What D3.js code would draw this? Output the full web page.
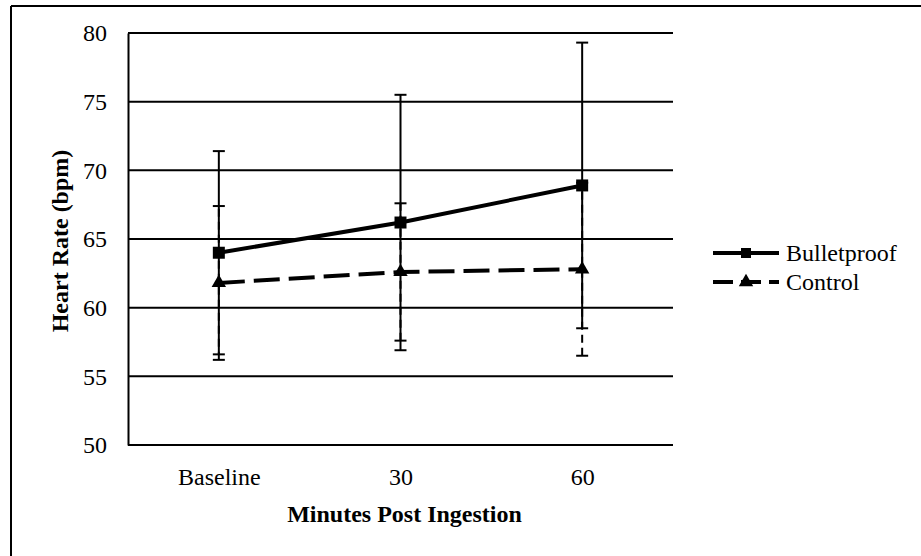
<!DOCTYPE html>
<html>
<head>
<meta charset="utf-8">
<script src="https://cdn.jsdelivr.net/npm/d3@7"></script>
<style>
    body { margin: 0; background: #fff; }
    text { font-family: "Liberation Serif", "Times New Roman", serif; fill: #000; }
</style>
</head>
<body>
<div id="chart"></div>
<script>
// data
var categories = ["Baseline", "30", "60"];
var bulletproof = [64.0, 66.2, 68.9];
var bulletproofErr = [7.4, 9.3, 10.4];
var control = [61.8, 62.6, 62.8];
var controlErr = [5.6, 5.0, 6.3];
var yTicks = [50, 55, 60, 65, 70, 75, 80];
var seriesNames = ["Bulletproof", "Control"];

var w = 921,
    h = 556,
    plotLeft = 128,
    plotRight = 673,
    plotTop = 33,
    plotBottom = 445;

var svg = d3.select("#chart")
    .append("svg")
    .attr("width", w)
    .attr("height", h);

// outer frame (top and left edges only are visible)
svg.append("line")
    .attr("x1", 11).attr("x2", w).attr("y1", 6).attr("y2", 6)
    .style("stroke", "#000").style("stroke-width", "2px");
svg.append("line")
    .attr("x1", 11).attr("x2", 11).attr("y1", 6).attr("y2", h)
    .style("stroke", "#000").style("stroke-width", "2px");

var x = d3.scalePoint().domain(categories).range([plotLeft, plotRight]).padding(0.5);
var y = d3.scaleLinear().domain([50, 80]).range([plotBottom, plotTop]);

// gridlines
svg.selectAll(".grid")
    .data(yTicks.slice(1))
    .enter()
    .append("line")
    .attr("class", "grid")
    .attr("x1", plotLeft)
    .attr("x2", plotRight)
    .attr("y1", function (d) { return y(d); })
    .attr("y2", function (d) { return y(d); })
    .style("stroke", "#000")
    .style("stroke-width", "2px");

// axes
var yAxis = d3.axisLeft(y).tickValues(yTicks).tickSize(0).tickPadding(21);
var gy = svg.append("g")
    .attr("transform", "translate(" + plotLeft + ",0)")
    .call(yAxis);
gy.select(".domain").style("stroke", "#000").style("stroke-width", "2px");
gy.selectAll("text").style("font-size", "24px").style("font-family", "Liberation Serif");

var xAxis = d3.axisBottom(x).tickSize(0).tickPadding(23);
var gx = svg.append("g")
    .attr("transform", "translate(0," + plotBottom + ")")
    .call(xAxis);
gx.select(".domain").attr("d", "M" + plotLeft + ",0H" + plotRight)
    .style("stroke", "#000").style("stroke-width", "2px");
gx.selectAll("text").style("font-size", "24px").style("font-family", "Liberation Serif");

// axis titles
svg.append("text")
    .attr("x", (plotLeft + plotRight) / 2 + 4)
    .attr("y", 522)
    .attr("text-anchor", "middle")
    .style("font-size", "24px")
    .style("font-weight", "bold")
    .text("Minutes Post Ingestion");

svg.append("text")
    .attr("transform", "translate(68," + 241 + ") rotate(-90)")
    .attr("text-anchor", "middle")
    .style("font-size", "24px")
    .style("font-weight", "bold")
    .text("Heart Rate (bpm)");

// error bars
function errorBars(values, errs, dash) {
    var g = svg.append("g");
    values.forEach(function (v, i) {
        var cx = x(categories[i]);
        g.append("line")
            .attr("x1", cx).attr("x2", cx)
            .attr("y1", y(v - errs[i])).attr("y2", y(v + errs[i]))
            .style("stroke", "#000").style("stroke-width", "2px")
            .style("stroke-dasharray", dash);
        [v - errs[i], v + errs[i]].forEach(function (e) {
            g.append("line")
                .attr("x1", cx - 6).attr("x2", cx + 6)
                .attr("y1", y(e)).attr("y2", y(e))
                .style("stroke", "#000").style("stroke-width", "2px");
        });
    });
}
errorBars(control, controlErr, "8,5");
errorBars(bulletproof, bulletproofErr, null);

var line = d3.line()
    .x(function (d, i) { return x(categories[i]); })
    .y(function (d) { return y(d); });

svg.append("path")
    .datum(bulletproof)
    .attr("d", line)
    .style("fill", "none")
    .style("stroke", "#000")
    .style("stroke-width", "4px");

svg.append("path")
    .datum(control)
    .attr("d", line)
    .style("fill", "none")
    .style("stroke", "#000")
    .style("stroke-width", "4px")
    .style("stroke-dasharray", "26,9");

var square = d3.symbol().type(d3.symbolSquare).size(144);
var triangle = d3.symbol().type(d3.symbolTriangle).size(90);

svg.selectAll(".sq")
    .data(bulletproof)
    .enter()
    .append("path")
    .attr("class", "sq")
    .attr("d", square)
    .attr("transform", function (d, i) { return "translate(" + x(categories[i]) + "," + y(d) + ")"; })
    .style("fill", "#000");

svg.selectAll(".tri")
    .data(control)
    .enter()
    .append("path")
    .attr("class", "tri")
    .attr("d", triangle)
    .attr("transform", function (d, i) { return "translate(" + x(categories[i]) + "," + y(d) + ")"; })
    .style("fill", "#000");

// legend
var legendY = [253, 282];
seriesNames.forEach(function (name, i) {
    var ly = legendY[i];
    svg.append("line")
        .attr("x1", 713).attr("x2", 779)
        .attr("y1", ly).attr("y2", ly)
        .style("stroke", "#000")
        .style("stroke-width", "4px")
        .style("stroke-dasharray", i == 1 ? "20,8" : null);
    svg.append("path")
        .attr("d", i == 0 ? d3.symbol().type(d3.symbolSquare).size(100)() : triangle())
        .attr("transform", "translate(746," + ly + ")")
        .style("fill", "#000");
    svg.append("text")
        .attr("x", 786)
        .attr("y", ly + 8)
        .style("font-size", "24px")
        .text(name);
});
</script>
</body>
</html>
